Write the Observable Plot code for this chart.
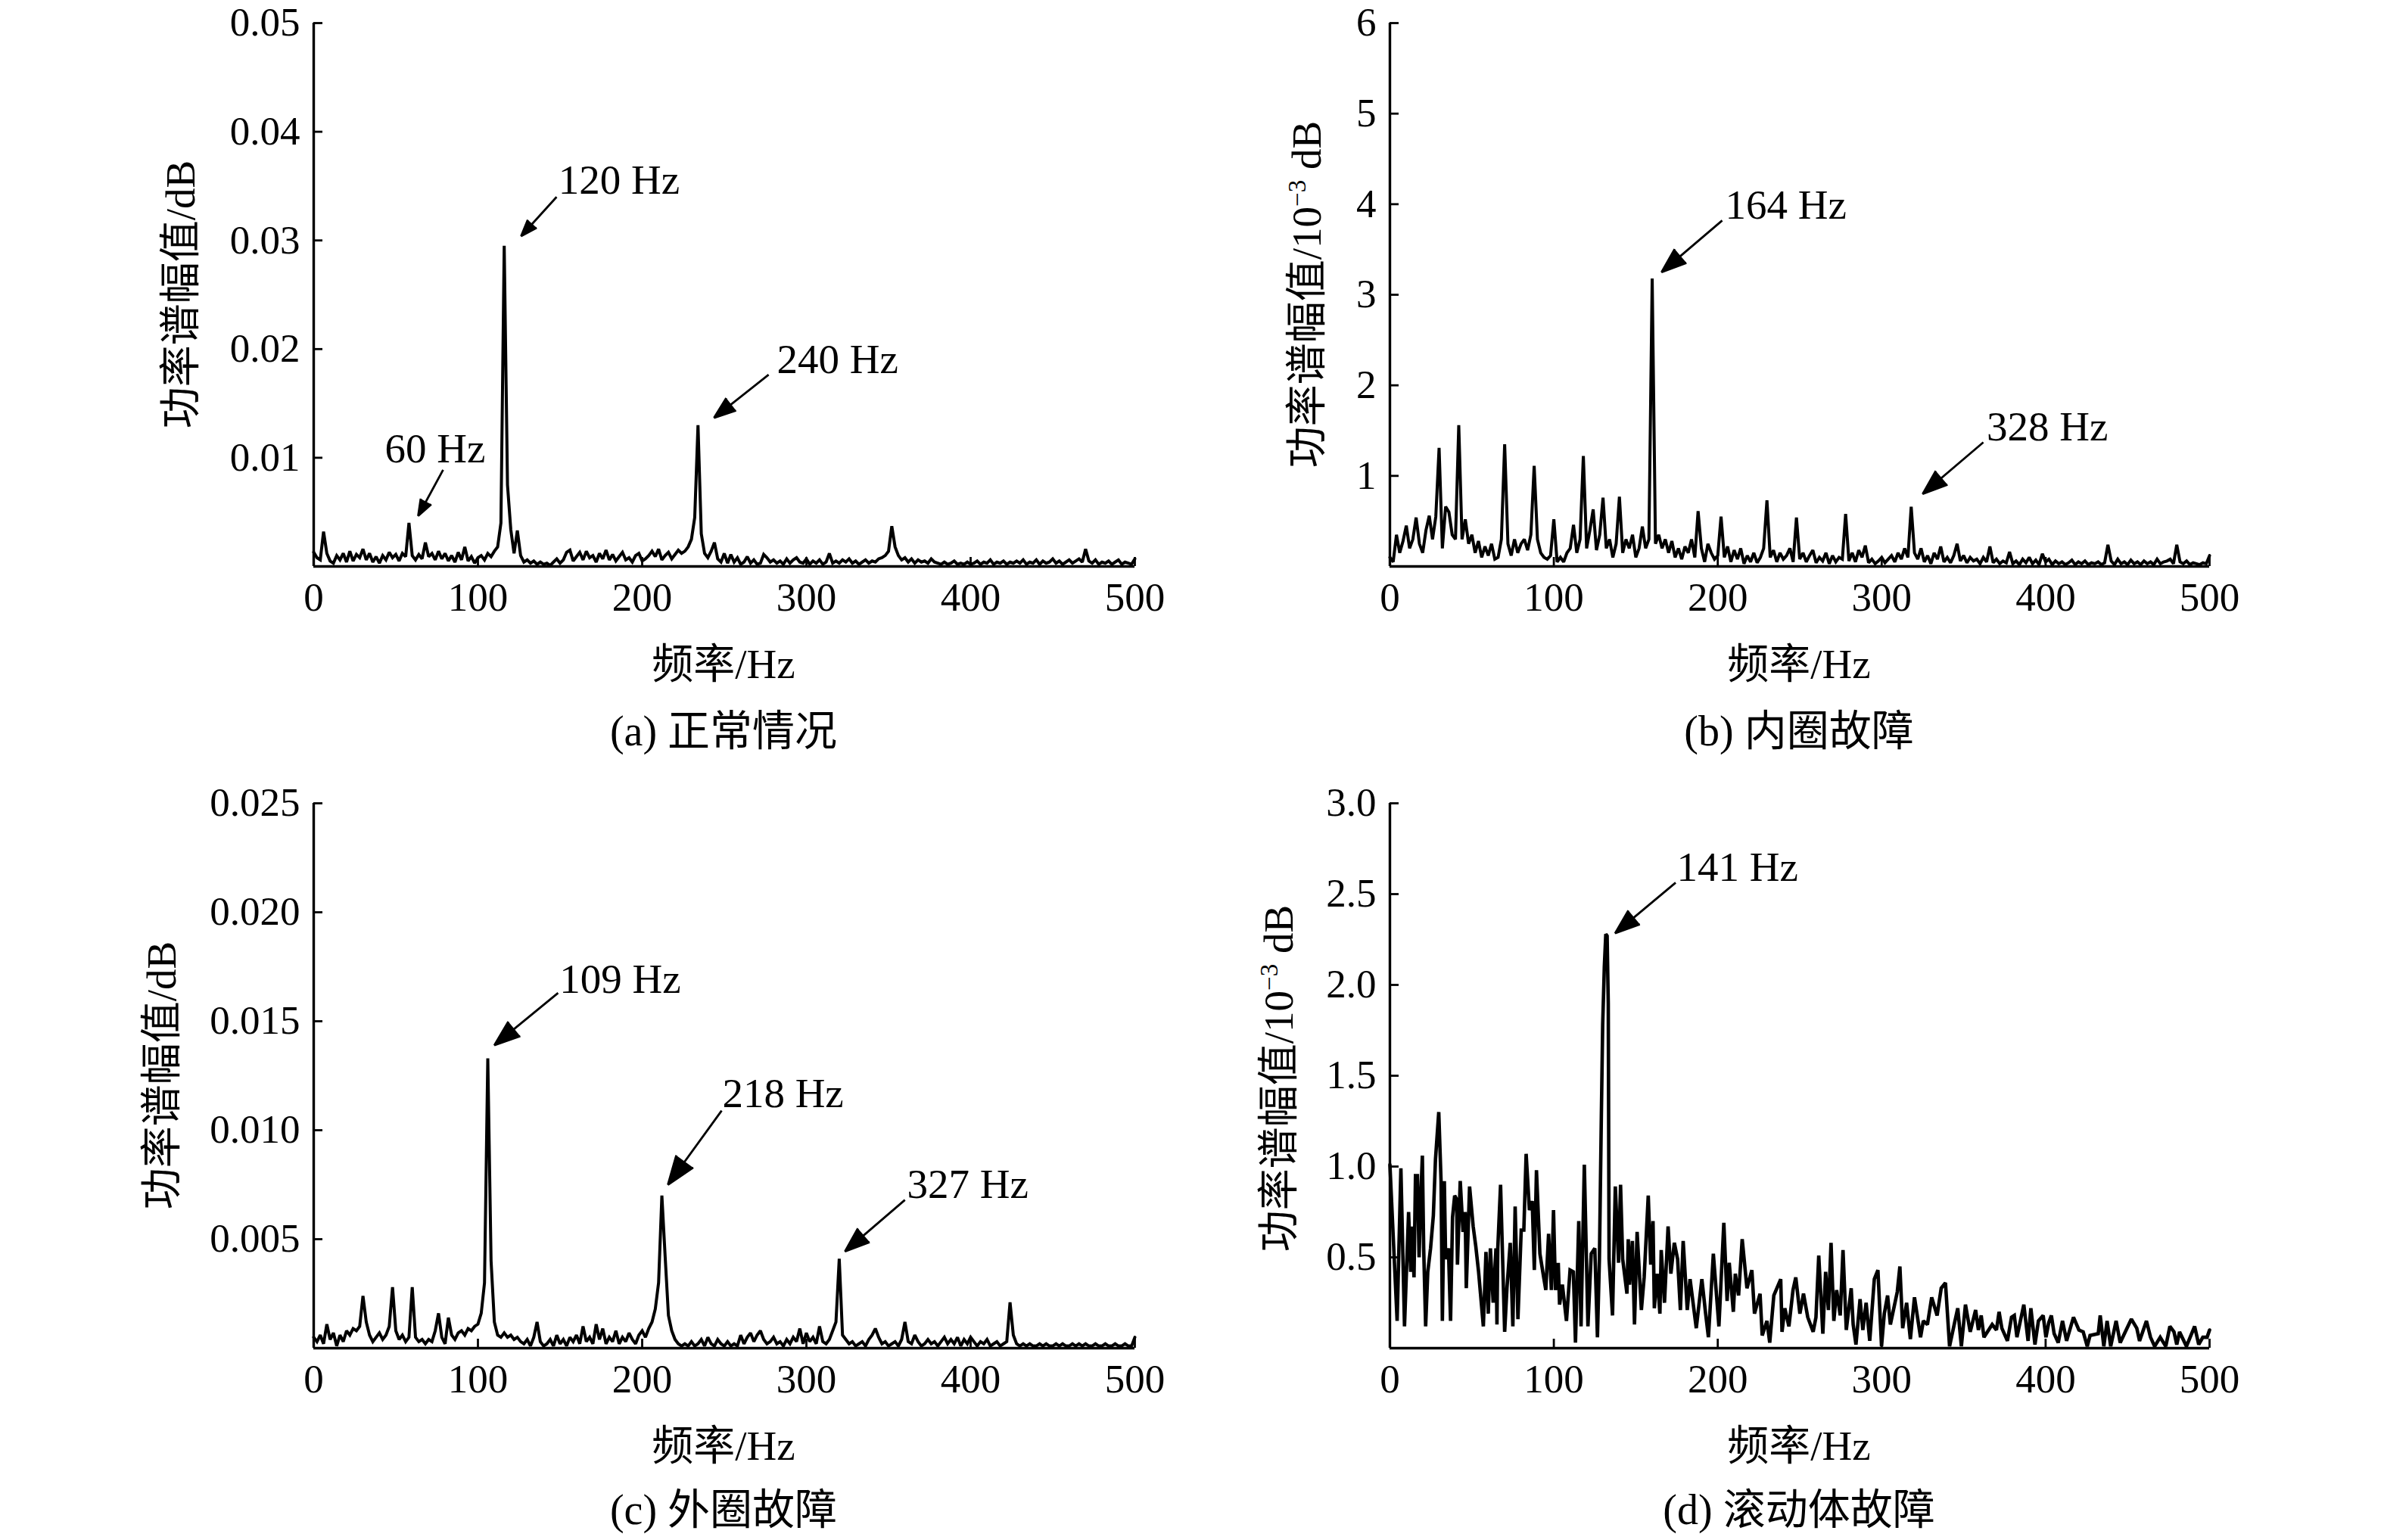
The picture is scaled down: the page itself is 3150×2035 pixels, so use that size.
<!DOCTYPE html>
<html>
<head>
<meta charset="utf-8">
<script src="https://cdn.jsdelivr.net/npm/d3@7"></script>
<script src="https://cdn.jsdelivr.net/npm/@observablehq/plot@0.6"></script>
<style>
html, body { margin: 0; padding: 0; background: #fff; }
#root { position: relative; width: 3150px; height: 2035px; overflow: hidden; background: #fff;
  font-family: "Liberation Serif", "Noto Sans CJK SC", serif; color: #000; }
.panel { position: absolute; width: 1575px; height: 1017px; }
.lbl { position: absolute; transform: translate(-50%, -50%); white-space: nowrap; font-size: 55px; line-height: 1; z-index: 2; }
.cap { font-size: 56px; }
.ylbl { position: absolute; transform: translate(-50%, -50%) rotate(-90deg); white-space: nowrap; font-size: 55px; line-height: 1; z-index: 2; }
.sup { font-size: 0.6em; vertical-align: 0.6em; }
</style>
</head>
<body>
<div id="root"></div>
<script>
// ---------------- data ----------------
const freqStep = 2; // Hz between consecutive samples of ampA / ampB / ampC

// (a) normal condition, units of 1e-4 dB, f = 0,2,...,500 Hz
const ampA = [
  13, 8, 6, 32, 12, 5, 3, 10, 6, 12,
  4, 14, 5, 11, 8, 16, 6, 12, 4, 9,
  3, 10, 6, 13, 8, 11, 5, 12, 9, 40,
  10, 6, 11, 7, 22, 9, 12, 6, 14, 7,
  12, 5, 10, 4, 13, 6, 18, 5, 9, 3,
  8, 10, 6, 12, 9, 14, 18, 40, 295, 75,
  34, 12, 33, 10, 4, 6, 3, 5, 2, 4,
  2, 3, 1, 4, 7, 3, 6, 13, 15, 5,
  9, 13, 6, 14, 8, 10, 4, 12, 7, 15,
  6, 11, 5, 9, 13, 6, 8, 4, 10, 12,
  5, 7, 10, 14, 9, 16, 6, 10, 13, 7,
  11, 15, 12, 14, 18, 25, 45, 130, 30, 12,
  8, 14, 22, 7, 4, 12, 3, 11, 4, 8,
  2, 4, 9, 3, 6, 2, 3, 11, 8, 4,
  6, 3, 5, 2, 7, 3, 6, 8, 4, 3,
  7, 2, 5, 3, 6, 2, 4, 12, 3, 5,
  3, 6, 4, 7, 3, 5, 2, 4, 6, 3,
  5, 4, 7, 8, 10, 14, 37, 18, 10, 6,
  8, 4, 7, 3, 6, 4, 5, 3, 7, 4,
  3, 2, 4, 2, 3, 5, 2, 3, 2, 4,
  2, 3, 5, 2, 4, 3, 6, 2, 4, 3,
  5, 2, 4, 3, 5, 3, 6, 2, 4, 3,
  6, 2, 5, 3, 4, 7, 3, 5, 2, 4,
  6, 3, 5, 7, 4, 16, 5, 3, 6, 2,
  4, 3, 5, 2, 4, 6, 2, 4, 3, 2,
  7
];

// (b) inner race fault, units of 1e-3 dB, f = 0,2,...,500 Hz
const ampB = [
  0.10, 0.05, 0.35, 0.15, 0.28, 0.45, 0.20, 0.30, 0.54, 0.25,
  0.15, 0.40, 0.56, 0.30, 0.55, 1.31, 0.20, 0.66, 0.60, 0.35,
  0.30, 1.56, 0.30, 0.52, 0.25, 0.35, 0.15, 0.28, 0.10, 0.22,
  0.12, 0.25, 0.08, 0.10, 0.30, 1.35, 0.25, 0.12, 0.30, 0.15,
  0.25, 0.30, 0.18, 0.35, 1.11, 0.30, 0.15, 0.10, 0.08, 0.12,
  0.52, 0.05, 0.10, 0.05, 0.15, 0.20, 0.46, 0.15, 0.30, 1.22,
  0.20, 0.40, 0.63, 0.18, 0.35, 0.76, 0.20, 0.30, 0.10, 0.25,
  0.77, 0.15, 0.30, 0.20, 0.35, 0.10, 0.20, 0.44, 0.20, 0.30,
  3.18, 0.25, 0.35, 0.20, 0.30, 0.15, 0.28, 0.10, 0.20, 0.08,
  0.22, 0.15, 0.30, 0.10, 0.61, 0.20, 0.05, 0.25, 0.15, 0.08,
  0.12, 0.55, 0.10, 0.22, 0.05, 0.18, 0.08, 0.20, 0.03, 0.12,
  0.05, 0.15, 0.04, 0.10, 0.20, 0.73, 0.10, 0.18, 0.05, 0.15,
  0.08, 0.12, 0.20, 0.05, 0.54, 0.08, 0.15, 0.05, 0.12, 0.18,
  0.04, 0.10, 0.06, 0.15, 0.03, 0.12, 0.05, 0.10, 0.08, 0.58,
  0.06, 0.15, 0.05, 0.18, 0.10, 0.23, 0.04, 0.08, 0.03, 0.06,
  0.10, 0.04, 0.08, 0.12, 0.05, 0.15, 0.08, 0.20, 0.10, 0.66,
  0.15, 0.08, 0.20, 0.05, 0.12, 0.03, 0.15, 0.08, 0.22, 0.05,
  0.10, 0.04, 0.12, 0.25, 0.06, 0.12, 0.04, 0.10, 0.06, 0.08,
  0.03, 0.10, 0.05, 0.22, 0.04, 0.08, 0.03, 0.06, 0.04, 0.16,
  0.03, 0.06, 0.02, 0.08, 0.04, 0.10, 0.03, 0.07, 0.02, 0.14,
  0.05, 0.08, 0.02, 0.06, 0.03, 0.05, 0.02, 0.04, 0.07, 0.02,
  0.05, 0.03, 0.06, 0.02, 0.04, 0.03, 0.05, 0.02, 0.04, 0.24,
  0.06, 0.02, 0.08, 0.03, 0.05, 0.02, 0.07, 0.03, 0.05, 0.02,
  0.06, 0.03, 0.05, 0.02, 0.08, 0.03, 0.05, 0.06, 0.08, 0.03,
  0.24, 0.05, 0.03, 0.06, 0.02, 0.04, 0.03, 0.02, 0.04, 0.03,
  0.12
];

// (c) outer race fault, units of 1e-4 dB, f = 0,2,...,500 Hz
const ampC = [
  5, 3, 6, 2, 11, 4, 7, 1, 6, 3,
  8, 6, 9, 8, 10, 24, 12, 6, 3, 5,
  7, 4, 6, 10, 28, 8, 4, 6, 3, 5,
  28, 5, 3, 4, 2, 4, 3, 8, 16, 5,
  2, 14, 6, 4, 7, 8, 6, 9, 8, 10,
  11, 16, 30, 133, 40, 12, 6, 5, 7, 5,
  6, 4, 5, 3, 2, 4, 1, 5, 12, 3,
  1, 2, 4, 1, 6, 2, 4, 1, 5, 3,
  6, 2, 10, 3, 5, 2, 11, 4, 9, 2,
  5, 3, 8, 2, 5, 3, 7, 4, 2, 6,
  8, 5, 9, 12, 18, 30, 70, 42, 15, 8,
  4, 2, 1, 2, 1, 3, 1, 2, 4, 1,
  5, 2, 1, 4, 2, 1, 3, 1, 2, 1,
  6, 2, 5, 7, 3, 6, 8, 4, 2, 3,
  5, 2, 3, 1, 4, 2, 5, 3, 9, 2,
  7, 3, 5, 2, 10, 3, 2, 4, 8, 12,
  41, 6, 4, 2, 3, 1, 2, 3, 1, 4,
  6, 9, 5, 2, 3, 1, 2, 3, 1, 4,
  12, 3, 2, 6, 3, 1, 2, 4, 2, 3,
  1, 3, 5, 2, 4, 2, 5, 1, 4, 2,
  5, 3, 1, 3, 2, 4, 1, 2, 3, 1,
  2, 3, 21, 6, 2, 1, 2, 1, 2, 1,
  1, 2, 1, 2, 1, 1, 2, 1, 2, 1,
  1, 2, 1, 2, 1, 2, 1, 1, 2, 1,
  1, 2, 1, 1, 2, 1, 1, 2, 1, 1,
  5
];

// (d) rolling element fault: [frequency Hz, amplitude 1e-3 dB] traced turning points
const specD = [
  [0,1.01],[4.4,0.15],[6.7,0.99],[8.9,0.12],[11.4,0.75],[12.7,0.42],[13.4,0.67],[14.7,0.39],[15.6,0.95],[16.8,0.95],
  [17.8,0.50],[18.8,0.82],[19.8,1.06],[20.6,0.55],[21.8,0.12],[23.1,0.42],[24.8,0.55],[26.5,0.73],[27.8,1.04],[29.8,1.30],
  [31.2,0.92],[32.0,0.15],[33.2,0.92],[34.0,0.49],[35.7,0.55],[37.0,0.15],[38.2,0.72],[39.5,0.84],[40.7,0.82],[41.2,0.46],
  [42.9,0.92],[44.6,0.64],[45.9,0.75],[46.6,0.33],[48.6,0.89],[50.8,0.67],[52.4,0.56],[54.1,0.42],[57.0,0.12],[58.6,0.53],
  [60.0,0.19],[61.3,0.55],[63.0,0.25],[64.7,0.55],[65.3,0.13],[65.8,0.55],[67.5,0.90],[70.0,0.09],[71.4,0.33],[73.4,0.58],
  [75.0,0.12],[76.4,0.78],[78.1,0.16],[80.1,0.65],[81.7,0.65],[83.1,1.07],[85.1,0.76],[86.8,0.81],[88.1,0.43],[89.4,0.98],
  [91.5,0.52],[93.8,0.39],[95.1,0.32],[96.8,0.63],[98.5,0.32],[99.8,0.76],[101.0,0.32],[102.7,0.47],[103.5,0.24],[105.2,0.35],
  [107.7,0.15],[109.9,0.43],[111.9,0.42],[113.2,0.03],[115.2,0.70],[116.6,0.12],[118.6,1.01],[120.8,0.12],[122.8,0.52],[125.0,0.55],
  [126.6,0.06],[127.8,0.49],[129.0,1.29],[129.8,1.78],[130.8,2.10],[131.7,2.28],[132.5,2.27],[133.2,1.90],[133.7,0.49],[135.8,0.18],
  [137.5,0.89],[139.5,0.47],[140.7,0.90],[142.0,0.49],[144.6,0.30],[145.4,0.60],[146.2,0.35],[147.9,0.59],[149.2,0.13],[150.8,0.64],
  [153.4,0.21],[155.1,0.39],[157.6,0.84],[159.1,0.46],[160.5,0.70],[161.3,0.22],[163.0,0.41],[164.7,0.19],[165.5,0.54],[167.5,0.25],
  [169.7,0.67],[171.4,0.41],[173.5,0.58],[175.5,0.49],[177.2,0.21],[178.9,0.59],[181.4,0.21],[183.1,0.38],[186.9,0.11],[190.3,0.38],
  [192.6,0.19],[194.3,0.06],[197.3,0.52],[200.7,0.12],[203.7,0.69],[205.7,0.26],[207.0,0.47],[209.5,0.20],[210.7,0.41],[212.7,0.29],
  [214.9,0.60],[217.8,0.33],[220.8,0.43],[222.4,0.19],[225.8,0.30],[227.1,0.07],[230.0,0.15],[231.7,0.03],[234.2,0.29],[238.4,0.38],
  [239.2,0.09],[240.9,0.22],[243.4,0.12],[245.9,0.32],[247.6,0.39],[250.1,0.19],[252.3,0.30],[254.9,0.17],[258.2,0.09],[259.9,0.17],
  [261.6,0.51],[264.1,0.08],[265.8,0.42],[267.5,0.21],[269.1,0.58],[270.8,0.15],[272.5,0.32],[274.7,0.18],[276.4,0.54],[278.4,0.10],
  [281.4,0.33],[282.6,0.13],[284.3,0.02],[286.8,0.27],[288.5,0.10],[290.5,0.25],[292.7,0.04],[295.5,0.38],[297.7,0.43],[299.9,0.01],
  [301.6,0.19],[303.6,0.29],[305.3,0.13],[309.5,0.31],[311.1,0.45],[312.8,0.11],[315.2,0.25],[317.5,0.05],[320.0,0.28],[323.7,0.06],
  [325.4,0.15],[327.9,0.13],[330.5,0.28],[333.8,0.18],[336.3,0.33],[338.9,0.36],[341.4,0.01],[344.7,0.15],[346.4,0.22],[348.6,0.01],
  [351.1,0.24],[354.0,0.09],[357.3,0.21],[359.0,0.10],[360.7,0.18],[362.4,0.06],[367.4,0.13],[370.0,0.10],[371.6,0.20],[373.3,0.11],
  [376.7,0.04],[379.2,0.17],[380.9,0.18],[382.5,0.06],[386.7,0.24],[389.3,0.04],[391.0,0.22],[393.5,0.02],[395.6,0.15],[398.5,0.18],
  [400.2,0.06],[401.9,0.14],[403.5,0.18],[405.2,0.08],[407.7,0.03],[410.3,0.15],[412.8,0.04],[417.0,0.17],[420.3,0.10],[422.9,0.09],
  [425.4,0.01],[427.1,0.07],[432.1,0.08],[433.3,0.18],[435.5,0.01],[437.5,0.15],[439.7,0.01],[443.0,0.15],[445.5,0.03],[448.1,0.08],
  [452.3,0.16],[455.6,0.11],[457.3,0.04],[461.5,0.15],[464.0,0.06],[466.5,0.01],[469.9,0.06],[473.3,0.01],[475.8,0.12],[478.3,0.09],
  [480.0,0.02],[481.7,0.09],[485.9,0.01],[490.9,0.12],[493.4,0.02],[495.9,0.06],[498.5,0.06],[500,0.10]
];

// tick values
const xTicks = [0, 100, 200, 300, 400, 500];
const yTicksA = [0.01, 0.02, 0.03, 0.04, 0.05];
const yTicksB = [1, 2, 3, 4, 5, 6];
const yTicksC = [0.005, 0.010, 0.015, 0.020, 0.025];
const yTicksD = [0.5, 1.0, 1.5, 2.0, 2.5, 3.0];

// peak annotations: arrow tip, arrow tail, label (left edge) in data units
const annotA = [
  {label: "60 Hz",  tipF: 63.6,  tipV: 0.00465, tailF: 78.8,  tailV: 0.00889, textF: 43.3,  textV: 0.0108},
  {label: "120 Hz", tipF: 126.3, tipV: 0.0304,  tailF: 147.9, tailV: 0.0340,  textF: 149.0, textV: 0.0355},
  {label: "240 Hz", tipF: 243.8, tipV: 0.01368, tailF: 277.0, tailV: 0.01764, textF: 282.0, textV: 0.0190}
];
const annotB = [
  {label: "164 Hz", tipF: 165.7, tipV: 3.25, tailF: 202.7, tailV: 3.82, textF: 204.5, textV: 3.99},
  {label: "328 Hz", tipF: 325.0, tipV: 0.80, tailF: 362.0, tailV: 1.37, textF: 364.0, textV: 1.54}
];
const annotC = [
  {label: "109 Hz", tipF: 110.0, tipV: 0.0139,  tailF: 148.8, tailV: 0.0163, textF: 149.7, textV: 0.0169},
  {label: "218 Hz", tipF: 215.7, tipV: 0.0075,  tailF: 248.4, tailV: 0.0109, textF: 248.8, textV: 0.01166},
  {label: "327 Hz", tipF: 323.5, tipV: 0.00444, tailF: 360.0, tailV: 0.0068, textF: 361.3, textV: 0.0075}
];
const annotD = [
  {label: "141 Hz", tipF: 137.4, tipV: 2.285, tailF: 174.3, tailV: 2.563, textF: 175.0, textV: 2.646}
];

// ---------------- drawing ----------------
const FONT = '"Liberation Serif", "Noto Sans CJK SC", serif';
const gridRows = (arr, unit) => arr.map((v, i) => ({f: i * freqStep, v: v * unit}));
const pairRows = (arr, unit) => arr.map(([f, v]) => ({f, v: v * unit}));

function makePanel({rows, yDomain, yTicks, yFormat, annots, left, top, ml, mr, mt, mb, lineW}) {
  const W = 1575, H = 1017;
  const pw = W - ml - mr, ph = H - mt - mb;
  const tickPx = 12;
  const tickF = 500 * tickPx / pw;            // inward tick length in x data units
  const tickV = yDomain[1] * tickPx / ph;     // inward tick length in y data units
  const svg = Plot.plot({
    width: W, height: H,
    marginLeft: ml, marginRight: mr, marginTop: mt, marginBottom: mb,
    style: {fontFamily: FONT, fontSize: "53px", color: "#000", background: "transparent", overflow: "visible"},
    x: {domain: [0, 500]},
    y: {domain: yDomain},
    marks: [
      Plot.axisX({ticks: xTicks, tickSize: 0, tickPadding: 21, tickFormat: d => String(d), label: null}),
      Plot.axisY({ticks: yTicks, tickSize: 0, tickPadding: 18, tickFormat: yFormat, label: null}),
      Plot.ruleX(xTicks, {x: d => d, y1: 0, y2: tickV, stroke: "#000", strokeWidth: 2.8}),
      Plot.ruleY(yTicks, {y: d => d, x1: 0, x2: tickF, stroke: "#000", strokeWidth: 2.8}),
      Plot.line(rows, {x: "f", y: "v", stroke: "#000", strokeWidth: lineW, strokeLinejoin: "miter", strokeMiterlimit: 2}),
      Plot.ruleX([0], {stroke: "#000", strokeWidth: 3.4}),
      Plot.ruleY([0], {stroke: "#000", strokeWidth: 3.4}),
      Plot.arrow(annots, {x1: "tailF", y1: "tailV", x2: "tipF", y2: "tipV",
        stroke: "#000", fill: "#000", strokeWidth: 2.8, headLength: 30, headAngle: 40, strokeLinecap: "butt"}),
      Plot.text(annots, {x: "textF", y: "textV", text: "label", textAnchor: "start", lineAnchor: "middle",
        fontSize: 55, fill: "#000"})
    ]
  });
  const wrap = document.createElement("div");
  wrap.className = "panel";
  wrap.style.left = left + "px";
  wrap.style.top = top + "px";
  wrap.appendChild(svg);
  document.getElementById("root").appendChild(wrap);
}

makePanel({rows: gridRows(ampA, 1e-4), yDomain: [0, 0.05], yTicks: yTicksA, yFormat: d3.format(".2f"),
  annots: annotA, left: 0, top: 0, ml: 414, mr: 76, mt: 30, mb: 269, lineW: 4});
makePanel({rows: gridRows(ampB, 1), yDomain: [0, 6], yTicks: yTicksB, yFormat: d3.format("d"),
  annots: annotB, left: 1575, top: 0, ml: 261, mr: 231, mt: 30, mb: 269, lineW: 4});
makePanel({rows: gridRows(ampC, 1e-4), yDomain: [0, 0.025], yTicks: yTicksC, yFormat: d3.format(".3f"),
  annots: annotC, left: 0, top: 1017, ml: 414, mr: 76, mt: 44, mb: 253, lineW: 4});
makePanel({rows: pairRows(specD, 1), yDomain: [0, 3], yTicks: yTicksD, yFormat: d3.format(".1f"),
  annots: annotD, left: 1575, top: 1017, ml: 261, mr: 231, mt: 44, mb: 253, lineW: 4.6});

// axis titles and captions
const texts = [
  {cls: "lbl", x: 956,  y: 877,  html: "频率/Hz"},
  {cls: "lbl cap", x: 956,  y: 966,  html: "(a) 正常情况"},
  {cls: "ylbl", x: 238, y: 389,  html: "功率谱幅值/dB"},
  {cls: "lbl", x: 2377, y: 877,  html: "频率/Hz"},
  {cls: "lbl cap", x: 2377, y: 966,  html: "(b) 内圈故障"},
  {cls: "ylbl", x: 1726, y: 389, html: "功率谱幅值/10<span class=\"sup\">−3</span> dB"},
  {cls: "lbl", x: 956,  y: 1910, html: "频率/Hz"},
  {cls: "lbl cap", x: 956,  y: 1995, html: "(c) 外圈故障"},
  {cls: "ylbl", x: 213, y: 1421, html: "功率谱幅值/dB"},
  {cls: "lbl", x: 2377, y: 1910, html: "频率/Hz"},
  {cls: "lbl cap", x: 2377, y: 1995, html: "(d) 滚动体故障"},
  {cls: "ylbl", x: 1689, y: 1425, html: "功率谱幅值/10<span class=\"sup\">−3</span> dB"}
];
for (const t of texts) {
  const el = document.createElement("div");
  el.className = t.cls;
  el.style.left = t.x + "px";
  el.style.top = t.y + "px";
  el.innerHTML = t.html;
  document.getElementById("root").appendChild(el);
}
</script>
</body>
</html>
